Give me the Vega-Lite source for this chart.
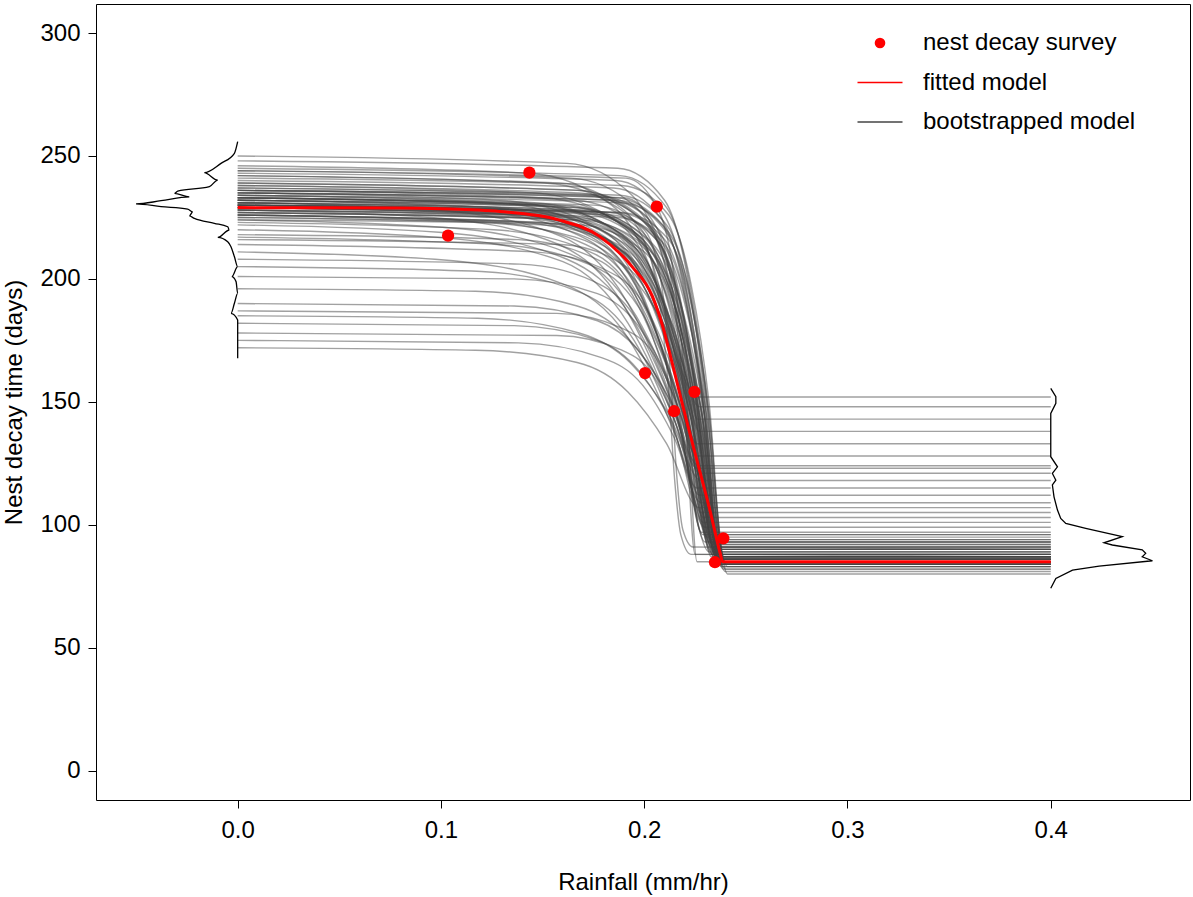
{
"$schema":"https://vega.github.io/schema/vega-lite/v6.json",
"width":1094,"height":796,
"autosize":{"type":"none"},
"padding":{"left":96,"top":4,"right":3,"bottom":97},
"background":"white",
"config":{"font":"Liberation Sans","view":{"stroke":"black","strokeWidth":1},
 "legend":{"labelLimit":500}},
"datasets":{
"boot":[
{"c":1,"x":0,"y":229},{"c":1,"x":0.138,"y":226},{"c":1,"x":0.183,"y":215},{"c":1,"x":0.206,"y":189},{"c":1,"x":0.223,"y":143},{"c":1,"x":0.238,"y":85},{"c":1,"x":0.4,"y":85},
{"c":2,"x":0,"y":230},{"c":2,"x":0.146,"y":227},{"c":2,"x":0.187,"y":216},{"c":2,"x":0.207,"y":190},{"c":2,"x":0.223,"y":144},{"c":2,"x":0.236,"y":86},{"c":2,"x":0.4,"y":86},
{"c":3,"x":0,"y":231},{"c":3,"x":0.170,"y":228},{"c":3,"x":0.202,"y":216},{"c":3,"x":0.218,"y":190},{"c":3,"x":0.230,"y":143},{"c":3,"x":0.240,"y":84},{"c":3,"x":0.4,"y":84},
{"c":4,"x":0,"y":232},{"c":4,"x":0.124,"y":229},{"c":4,"x":0.174,"y":218},{"c":4,"x":0.199,"y":192},{"c":4,"x":0.218,"y":146},{"c":4,"x":0.234,"y":88},{"c":4,"x":0.4,"y":88},
{"c":5,"x":0,"y":228},{"c":5,"x":0.187,"y":225},{"c":5,"x":0.210,"y":214},{"c":5,"x":0.221,"y":188},{"c":5,"x":0.230,"y":142},{"c":5,"x":0.237,"y":85},{"c":5,"x":0.4,"y":85},
{"c":6,"x":0,"y":233},{"c":6,"x":0.145,"y":230},{"c":6,"x":0.186,"y":219},{"c":6,"x":0.206,"y":193},{"c":6,"x":0.222,"y":147},{"c":6,"x":0.235,"y":90},{"c":6,"x":0.4,"y":90},
{"c":7,"x":0,"y":235},{"c":7,"x":0.129,"y":232},{"c":7,"x":0.179,"y":220},{"c":7,"x":0.204,"y":192},{"c":7,"x":0.223,"y":144},{"c":7,"x":0.239,"y":83},{"c":7,"x":0.4,"y":83},
{"c":8,"x":0,"y":227},{"c":8,"x":0.163,"y":224},{"c":8,"x":0.195,"y":213},{"c":8,"x":0.211,"y":188},{"c":8,"x":0.223,"y":143},{"c":8,"x":0.233,"y":87},{"c":8,"x":0.4,"y":87},
{"c":9,"x":0,"y":236},{"c":9,"x":0.186,"y":233},{"c":9,"x":0.209,"y":222},{"c":9,"x":0.220,"y":196},{"c":9,"x":0.229,"y":150},{"c":9,"x":0.236,"y":92},{"c":9,"x":0.4,"y":92},
{"c":10,"x":0,"y":224},{"c":10,"x":0.101,"y":221},{"c":10,"x":0.164,"y":210},{"c":10,"x":0.196,"y":185},{"c":10,"x":0.220,"y":140},{"c":10,"x":0.241,"y":84},{"c":10,"x":0.4,"y":84},
{"c":11,"x":0,"y":230},{"c":11,"x":0.122,"y":227},{"c":11,"x":0.172,"y":216},{"c":11,"x":0.197,"y":191},{"c":11,"x":0.216,"y":145},{"c":11,"x":0.232,"y":89},{"c":11,"x":0.4,"y":89},
{"c":12,"x":0,"y":238},{"c":12,"x":0.168,"y":235},{"c":12,"x":0.200,"y":223},{"c":12,"x":0.216,"y":195},{"c":12,"x":0.228,"y":146},{"c":12,"x":0.238,"y":85},{"c":12,"x":0.4,"y":85},
{"c":13,"x":0,"y":226},{"c":13,"x":0.140,"y":223},{"c":13,"x":0.181,"y":213},{"c":13,"x":0.201,"y":189},{"c":13,"x":0.217,"y":146},{"c":13,"x":0.230,"y":93},{"c":13,"x":0.4,"y":93},
{"c":14,"x":0,"y":231},{"c":14,"x":0.097,"y":228},{"c":14,"x":0.160,"y":217},{"c":14,"x":0.192,"y":190},{"c":14,"x":0.216,"y":144},{"c":14,"x":0.237,"y":86},{"c":14,"x":0.4,"y":86},
{"c":15,"x":0,"y":240},{"c":15,"x":0.185,"y":237},{"c":15,"x":0.208,"y":225},{"c":15,"x":0.219,"y":198},{"c":15,"x":0.228,"y":151},{"c":15,"x":0.235,"y":91},{"c":15,"x":0.4,"y":91},
{"c":16,"x":0,"y":225},{"c":16,"x":0.149,"y":222},{"c":16,"x":0.190,"y":211},{"c":16,"x":0.210,"y":185},{"c":16,"x":0.226,"y":139},{"c":16,"x":0.239,"y":82},{"c":16,"x":0.4,"y":82},
{"c":17,"x":0,"y":229},{"c":17,"x":0.161,"y":226},{"c":17,"x":0.193,"y":216},{"c":17,"x":0.209,"y":191},{"c":17,"x":0.221,"y":149},{"c":17,"x":0.231,"y":95},{"c":17,"x":0.4,"y":95},
{"c":18,"x":0,"y":232},{"c":18,"x":0.130,"y":229},{"c":18,"x":0.180,"y":217},{"c":18,"x":0.205,"y":191},{"c":18,"x":0.224,"y":144},{"c":18,"x":0.240,"y":85},{"c":18,"x":0.4,"y":85},
{"c":19,"x":0,"y":234},{"c":19,"x":0.146,"y":231},{"c":19,"x":0.187,"y":219},{"c":19,"x":0.207,"y":193},{"c":19,"x":0.223,"y":146},{"c":19,"x":0.236,"y":87},{"c":19,"x":0.4,"y":87},
{"c":20,"x":0,"y":237},{"c":20,"x":0.171,"y":234},{"c":20,"x":0.203,"y":221},{"c":20,"x":0.219,"y":193},{"c":20,"x":0.231,"y":143},{"c":20,"x":0.241,"y":80},{"c":20,"x":0.4,"y":80},
{"c":21,"x":0,"y":223},{"c":21,"x":0.126,"y":220},{"c":21,"x":0.176,"y":210},{"c":21,"x":0.201,"y":185},{"c":21,"x":0.220,"y":142},{"c":21,"x":0.236,"y":88},{"c":21,"x":0.4,"y":88},
{"c":22,"x":0,"y":230},{"c":22,"x":0.183,"y":227},{"c":22,"x":0.206,"y":216},{"c":22,"x":0.217,"y":192},{"c":22,"x":0.226,"y":148},{"c":22,"x":0.233,"y":94},{"c":22,"x":0.4,"y":94},
{"c":23,"x":0,"y":233},{"c":23,"x":0.148,"y":230},{"c":23,"x":0.189,"y":218},{"c":23,"x":0.209,"y":192},{"c":23,"x":0.225,"y":145},{"c":23,"x":0.238,"y":86},{"c":23,"x":0.4,"y":86},
{"c":24,"x":0,"y":228},{"c":24,"x":0.095,"y":225},{"c":24,"x":0.158,"y":214},{"c":24,"x":0.190,"y":189},{"c":24,"x":0.214,"y":145},{"c":24,"x":0.235,"y":90},{"c":24,"x":0.4,"y":90},
{"c":25,"x":0,"y":239},{"c":25,"x":0.167,"y":236},{"c":25,"x":0.199,"y":224},{"c":25,"x":0.215,"y":196},{"c":25,"x":0.227,"y":146},{"c":25,"x":0.237,"y":84},{"c":25,"x":0.4,"y":84},
{"c":26,"x":0,"y":226},{"c":26,"x":0.150,"y":223},{"c":26,"x":0.191,"y":212},{"c":26,"x":0.211,"y":185},{"c":26,"x":0.227,"y":139},{"c":26,"x":0.240,"y":81},{"c":26,"x":0.4,"y":81},
{"c":27,"x":0,"y":231},{"c":27,"x":0.124,"y":228},{"c":27,"x":0.174,"y":217},{"c":27,"x":0.199,"y":192},{"c":27,"x":0.218,"y":148},{"c":27,"x":0.234,"y":92},{"c":27,"x":0.4,"y":92},
{"c":28,"x":0,"y":235},{"c":28,"x":0.187,"y":232},{"c":28,"x":0.210,"y":220},{"c":28,"x":0.221,"y":194},{"c":28,"x":0.230,"y":147},{"c":28,"x":0.237,"y":89},{"c":28,"x":0.4,"y":89},
{"c":29,"x":0,"y":229},{"c":29,"x":0.139,"y":226},{"c":29,"x":0.180,"y":216},{"c":29,"x":0.200,"y":192},{"c":29,"x":0.216,"y":149},{"c":29,"x":0.229,"y":96},{"c":29,"x":0.4,"y":96},
{"c":30,"x":0,"y":222},{"c":30,"x":0.099,"y":219},{"c":30,"x":0.162,"y":208},{"c":30,"x":0.194,"y":184},{"c":30,"x":0.218,"y":140},{"c":30,"x":0.239,"y":85},{"c":30,"x":0.4,"y":85},
{"c":31,"x":0,"y":243},{"c":31,"x":0.186,"y":240},{"c":31,"x":0.209,"y":227},{"c":31,"x":0.220,"y":199},{"c":31,"x":0.229,"y":149},{"c":31,"x":0.236,"y":86},{"c":31,"x":0.4,"y":86},
{"c":32,"x":0,"y":244},{"c":32,"x":0.164,"y":241},{"c":32,"x":0.196,"y":229},{"c":32,"x":0.212,"y":201},{"c":32,"x":0.224,"y":152},{"c":32,"x":0.234,"y":91},{"c":32,"x":0.4,"y":91},
{"c":33,"x":0,"y":245},{"c":33,"x":0.188,"y":242},{"c":33,"x":0.211,"y":229},{"c":33,"x":0.222,"y":200},{"c":33,"x":0.231,"y":149},{"c":33,"x":0.238,"y":85},{"c":33,"x":0.4,"y":85},
{"c":34,"x":0,"y":246},{"c":34,"x":0.143,"y":243},{"c":34,"x":0.184,"y":230},{"c":34,"x":0.204,"y":202},{"c":34,"x":0.220,"y":151},{"c":34,"x":0.233,"y":88},{"c":34,"x":0.4,"y":88},
{"c":35,"x":0,"y":248},{"c":35,"x":0.187,"y":245},{"c":35,"x":0.210,"y":232},{"c":35,"x":0.221,"y":202},{"c":35,"x":0.230,"y":150},{"c":35,"x":0.237,"y":84},{"c":35,"x":0.4,"y":84},
{"c":36,"x":0,"y":250},{"c":36,"x":0.162,"y":247},{"c":36,"x":0.194,"y":234},{"c":36,"x":0.210,"y":206},{"c":36,"x":0.222,"y":156},{"c":36,"x":0.232,"y":93},{"c":36,"x":0.4,"y":93},
{"c":37,"x":0,"y":241},{"c":37,"x":0.189,"y":238},{"c":37,"x":0.212,"y":226},{"c":37,"x":0.223,"y":198},{"c":37,"x":0.232,"y":149},{"c":37,"x":0.239,"y":87},{"c":37,"x":0.4,"y":87},
{"c":38,"x":0,"y":242},{"c":38,"x":0.158,"y":239},{"c":38,"x":0.190,"y":228},{"c":38,"x":0.206,"y":201},{"c":38,"x":0.218,"y":155},{"c":38,"x":0.228,"y":97},{"c":38,"x":0.4,"y":97},
{"c":39,"x":0,"y":242},{"c":39,"x":0.151,"y":239},{"c":39,"x":0.192,"y":226},{"c":39,"x":0.212,"y":197},{"c":39,"x":0.228,"y":147},{"c":39,"x":0.241,"y":83},{"c":39,"x":0.4,"y":83},
{"c":40,"x":0,"y":205},{"c":40,"x":0.120,"y":203},{"c":40,"x":0.170,"y":194},{"c":40,"x":0.195,"y":175},{"c":40,"x":0.214,"y":141},{"c":40,"x":0.230,"y":99},{"c":40,"x":0.4,"y":99},
{"c":41,"x":0,"y":208},{"c":41,"x":0.139,"y":206},{"c":41,"x":0.180,"y":197},{"c":41,"x":0.200,"y":178},{"c":41,"x":0.216,"y":144},{"c":41,"x":0.229,"y":101},{"c":41,"x":0.4,"y":101},
{"c":42,"x":0,"y":211},{"c":42,"x":0.097,"y":208},{"c":42,"x":0.160,"y":198},{"c":42,"x":0.192,"y":176},{"c":42,"x":0.216,"y":135},{"c":42,"x":0.237,"y":85},{"c":42,"x":0.4,"y":85},
{"c":43,"x":0,"y":214},{"c":43,"x":0.146,"y":211},{"c":43,"x":0.187,"y":201},{"c":43,"x":0.207,"y":178},{"c":43,"x":0.223,"y":138},{"c":43,"x":0.236,"y":87},{"c":43,"x":0.4,"y":87},
{"c":44,"x":0,"y":216},{"c":44,"x":0.159,"y":214},{"c":44,"x":0.191,"y":205},{"c":44,"x":0.207,"y":184},{"c":44,"x":0.219,"y":148},{"c":44,"x":0.229,"y":103},{"c":44,"x":0.4,"y":103},
{"c":45,"x":0,"y":217},{"c":45,"x":0.128,"y":214},{"c":45,"x":0.178,"y":204},{"c":45,"x":0.203,"y":180},{"c":45,"x":0.222,"y":137},{"c":45,"x":0.238,"y":84},{"c":45,"x":0.4,"y":84},
{"c":46,"x":0,"y":218},{"c":46,"x":0.138,"y":216},{"c":46,"x":0.179,"y":207},{"c":46,"x":0.199,"y":186},{"c":46,"x":0.215,"y":150},{"c":46,"x":0.228,"y":105},{"c":46,"x":0.4,"y":105},
{"c":47,"x":0,"y":220},{"c":47,"x":0.097,"y":217},{"c":47,"x":0.160,"y":207},{"c":47,"x":0.192,"y":182},{"c":47,"x":0.216,"y":140},{"c":47,"x":0.237,"y":86},{"c":47,"x":0.4,"y":86},
{"c":48,"x":0,"y":172},{"c":48,"x":0.117,"y":171},{"c":48,"x":0.167,"y":166},{"c":48,"x":0.192,"y":154},{"c":48,"x":0.211,"y":133},{"c":48,"x":0.227,"y":107},{"c":48,"x":0.4,"y":107},
{"c":49,"x":0,"y":175},{"c":49,"x":0.138,"y":174},{"c":49,"x":0.179,"y":168},{"c":49,"x":0.199,"y":157},{"c":49,"x":0.215,"y":135},{"c":49,"x":0.228,"y":109},{"c":49,"x":0.4,"y":109},
{"c":50,"x":0,"y":178},{"c":50,"x":0.157,"y":177},{"c":50,"x":0.189,"y":171},{"c":50,"x":0.205,"y":160},{"c":50,"x":0.217,"y":138},{"c":50,"x":0.227,"y":112},{"c":50,"x":0.4,"y":112},
{"c":51,"x":0,"y":182},{"c":51,"x":0.136,"y":181},{"c":51,"x":0.177,"y":175},{"c":51,"x":0.197,"y":163},{"c":51,"x":0.213,"y":142},{"c":51,"x":0.226,"y":115},{"c":51,"x":0.4,"y":115},
{"c":52,"x":0,"y":185},{"c":52,"x":0.118,"y":184},{"c":52,"x":0.168,"y":178},{"c":52,"x":0.193,"y":166},{"c":52,"x":0.212,"y":145},{"c":52,"x":0.228,"y":118},{"c":52,"x":0.4,"y":118},
{"c":53,"x":0,"y":187},{"c":53,"x":0.157,"y":186},{"c":53,"x":0.189,"y":180},{"c":53,"x":0.205,"y":169},{"c":53,"x":0.217,"y":147},{"c":53,"x":0.227,"y":121},{"c":53,"x":0.4,"y":121},
{"c":54,"x":0,"y":190},{"c":54,"x":0.136,"y":189},{"c":54,"x":0.177,"y":183},{"c":54,"x":0.197,"y":171},{"c":54,"x":0.213,"y":150},{"c":54,"x":0.226,"y":123},{"c":54,"x":0.4,"y":123},
{"c":55,"x":0,"y":196},{"c":55,"x":0.117,"y":195},{"c":55,"x":0.167,"y":189},{"c":55,"x":0.192,"y":176},{"c":55,"x":0.211,"y":153},{"c":55,"x":0.227,"y":124},{"c":55,"x":0.4,"y":124},
{"c":56,"x":0,"y":201},{"c":56,"x":0.136,"y":200},{"c":56,"x":0.177,"y":194},{"c":56,"x":0.197,"y":181},{"c":56,"x":0.213,"y":157},{"c":56,"x":0.226,"y":128},{"c":56,"x":0.4,"y":128},
{"c":57,"x":0,"y":227},{"c":57,"x":0.136,"y":225},{"c":57,"x":0.177,"y":218},{"c":57,"x":0.197,"y":201},{"c":57,"x":0.213,"y":171},{"c":57,"x":0.226,"y":133},{"c":57,"x":0.4,"y":133},
{"c":58,"x":0,"y":232},{"c":58,"x":0.157,"y":230},{"c":58,"x":0.189,"y":223},{"c":58,"x":0.205,"y":206},{"c":58,"x":0.217,"y":176},{"c":58,"x":0.227,"y":138},{"c":58,"x":0.4,"y":138},
{"c":59,"x":0,"y":236},{"c":59,"x":0.176,"y":234},{"c":59,"x":0.199,"y":227},{"c":59,"x":0.210,"y":210},{"c":59,"x":0.219,"y":180},{"c":59,"x":0.226,"y":143},{"c":59,"x":0.4,"y":143},
{"c":60,"x":0,"y":230},{"c":60,"x":0.137,"y":228},{"c":60,"x":0.178,"y":222},{"c":60,"x":0.198,"y":207},{"c":60,"x":0.214,"y":181},{"c":60,"x":0.227,"y":148},{"c":60,"x":0.4,"y":148},
{"c":61,"x":0,"y":224},{"c":61,"x":0.116,"y":223},{"c":61,"x":0.166,"y":217},{"c":61,"x":0.191,"y":204},{"c":61,"x":0.210,"y":181},{"c":61,"x":0.226,"y":152},{"c":61,"x":0.4,"y":152},
{"c":62,"x":0,"y":244},{"c":62,"x":0.191,"y":241},{"c":62,"x":0.207,"y":228},{"c":62,"x":0.215,"y":199},{"c":62,"x":0.221,"y":149},{"c":62,"x":0.226,"y":85},{"c":62,"x":0.4,"y":85},
{"c":63,"x":0,"y":236},{"c":63,"x":0.190,"y":233},{"c":63,"x":0.206,"y":221},{"c":63,"x":0.214,"y":195},{"c":63,"x":0.220,"y":147},{"c":63,"x":0.225,"y":88},{"c":63,"x":0.4,"y":88},
{"c":64,"x":0,"y":233},{"c":64,"x":0.175,"y":230},{"c":64,"x":0.200,"y":220},{"c":64,"x":0.209,"y":195},{"c":64,"x":0.213,"y":160},{"c":64,"x":0.216,"y":120},{"c":64,"x":0.219,"y":98},{"c":64,"x":0.224,"y":91},{"c":64,"x":0.4,"y":90},
{"c":65,"x":0,"y":230},{"c":65,"x":0.170,"y":227},{"c":65,"x":0.198,"y":217},{"c":65,"x":0.207,"y":193},{"c":65,"x":0.212,"y":155},{"c":65,"x":0.215,"y":118},{"c":65,"x":0.218,"y":96},{"c":65,"x":0.223,"y":88},{"c":65,"x":0.4,"y":87},
{"c":66,"x":0,"y":230},{"c":66,"x":0.167,"y":227},{"c":66,"x":0.199,"y":215},{"c":66,"x":0.215,"y":189},{"c":66,"x":0.227,"y":142},{"c":66,"x":0.237,"y":84},{"c":66,"x":0.4,"y":84},
{"c":67,"x":0,"y":228},{"c":67,"x":0.145,"y":225},{"c":67,"x":0.186,"y":214},{"c":67,"x":0.206,"y":188},{"c":67,"x":0.222,"y":143},{"c":67,"x":0.235,"y":86},{"c":67,"x":0.4,"y":86},
{"c":68,"x":0,"y":234},{"c":68,"x":0.189,"y":231},{"c":68,"x":0.212,"y":219},{"c":68,"x":0.223,"y":192},{"c":68,"x":0.232,"y":145},{"c":68,"x":0.239,"y":85},{"c":68,"x":0.4,"y":85},
{"c":69,"x":0,"y":232},{"c":69,"x":0.168,"y":229},{"c":69,"x":0.200,"y":217},{"c":69,"x":0.216,"y":190},{"c":69,"x":0.228,"y":143},{"c":69,"x":0.238,"y":83},{"c":69,"x":0.4,"y":83},
{"c":70,"x":0,"y":226},{"c":70,"x":0.126,"y":223},{"c":70,"x":0.176,"y":212},{"c":70,"x":0.201,"y":187},{"c":70,"x":0.220,"y":143},{"c":70,"x":0.236,"y":87},{"c":70,"x":0.4,"y":87},
{"c":71,"x":0,"y":236},{"c":71,"x":0.150,"y":233},{"c":71,"x":0.191,"y":221},{"c":71,"x":0.211,"y":194},{"c":71,"x":0.227,"y":145},{"c":71,"x":0.240,"y":85},{"c":71,"x":0.4,"y":85},
{"c":72,"x":0,"y":229},{"c":72,"x":0.184,"y":226},{"c":72,"x":0.207,"y":215},{"c":72,"x":0.218,"y":190},{"c":72,"x":0.227,"y":145},{"c":72,"x":0.234,"y":89},{"c":72,"x":0.4,"y":89},
{"c":73,"x":0,"y":231},{"c":73,"x":0.166,"y":228},{"c":73,"x":0.198,"y":217},{"c":73,"x":0.214,"y":192},{"c":73,"x":0.226,"y":147},{"c":73,"x":0.236,"y":91},{"c":73,"x":0.4,"y":91},
{"c":74,"x":0,"y":233},{"c":74,"x":0.148,"y":230},{"c":74,"x":0.189,"y":218},{"c":74,"x":0.209,"y":191},{"c":74,"x":0.225,"y":144},{"c":74,"x":0.238,"y":84},{"c":74,"x":0.4,"y":84},
{"c":75,"x":0,"y":227},{"c":75,"x":0.169,"y":224},{"c":75,"x":0.201,"y":213},{"c":75,"x":0.217,"y":188},{"c":75,"x":0.229,"y":142},{"c":75,"x":0.239,"y":86},{"c":75,"x":0.4,"y":86},
{"c":76,"x":0,"y":235},{"c":76,"x":0.183,"y":232},{"c":76,"x":0.206,"y":221},{"c":76,"x":0.217,"y":195},{"c":76,"x":0.226,"y":150},{"c":76,"x":0.233,"y":93},{"c":76,"x":0.4,"y":93},
{"c":77,"x":0,"y":230},{"c":77,"x":0.187,"y":227},{"c":77,"x":0.210,"y":216},{"c":77,"x":0.221,"y":189},{"c":77,"x":0.230,"y":143},{"c":77,"x":0.237,"y":85},{"c":77,"x":0.4,"y":85},
{"c":78,"x":0,"y":238},{"c":78,"x":0.146,"y":235},{"c":78,"x":0.187,"y":223},{"c":78,"x":0.207,"y":196},{"c":78,"x":0.223,"y":148},{"c":78,"x":0.236,"y":88},{"c":78,"x":0.4,"y":88},
{"c":79,"x":0,"y":225},{"c":79,"x":0.168,"y":222},{"c":79,"x":0.200,"y":211},{"c":79,"x":0.216,"y":186},{"c":79,"x":0.228,"y":141},{"c":79,"x":0.238,"y":85},{"c":79,"x":0.4,"y":85},
{"c":80,"x":0,"y":232},{"c":80,"x":0.165,"y":229},{"c":80,"x":0.197,"y":218},{"c":80,"x":0.213,"y":192},{"c":80,"x":0.225,"y":147},{"c":80,"x":0.235,"y":90},{"c":80,"x":0.4,"y":90},
{"c":81,"x":0,"y":229},{"c":81,"x":0.150,"y":226},{"c":81,"x":0.191,"y":214},{"c":81,"x":0.211,"y":188},{"c":81,"x":0.227,"y":141},{"c":81,"x":0.240,"y":82},{"c":81,"x":0.4,"y":82},
{"c":82,"x":0,"y":234},{"c":82,"x":0.127,"y":231},{"c":82,"x":0.177,"y":219},{"c":82,"x":0.202,"y":193},{"c":82,"x":0.221,"y":145},{"c":82,"x":0.237,"y":86},{"c":82,"x":0.4,"y":86},
{"c":83,"x":0,"y":237},{"c":83,"x":0.188,"y":234},{"c":83,"x":0.211,"y":222},{"c":83,"x":0.222,"y":195},{"c":83,"x":0.231,"y":147},{"c":83,"x":0.238,"y":87},{"c":83,"x":0.4,"y":87},
{"c":84,"x":0,"y":231},{"c":84,"x":0.143,"y":228},{"c":84,"x":0.184,"y":217},{"c":84,"x":0.204,"y":193},{"c":84,"x":0.220,"y":149},{"c":84,"x":0.233,"y":94},{"c":84,"x":0.4,"y":94},
{"c":85,"x":0,"y":228},{"c":85,"x":0.166,"y":225},{"c":85,"x":0.198,"y":214},{"c":85,"x":0.214,"y":188},{"c":85,"x":0.226,"y":142},{"c":85,"x":0.236,"y":84},{"c":85,"x":0.4,"y":84},
{"c":86,"x":0,"y":233},{"c":86,"x":0.162,"y":230},{"c":86,"x":0.194,"y":219},{"c":86,"x":0.210,"y":195},{"c":86,"x":0.222,"y":151},{"c":86,"x":0.232,"y":96},{"c":86,"x":0.4,"y":96},
{"c":87,"x":0,"y":230},{"c":87,"x":0.189,"y":227},{"c":87,"x":0.212,"y":216},{"c":87,"x":0.223,"y":190},{"c":87,"x":0.232,"y":144},{"c":87,"x":0.239,"y":87},{"c":87,"x":0.4,"y":87},
{"c":88,"x":0,"y":235},{"c":88,"x":0.166,"y":232},{"c":88,"x":0.198,"y":220},{"c":88,"x":0.214,"y":193},{"c":88,"x":0.226,"y":145},{"c":88,"x":0.236,"y":85},{"c":88,"x":0.4,"y":85},
{"c":89,"x":0,"y":226},{"c":89,"x":0.147,"y":223},{"c":89,"x":0.188,"y":212},{"c":89,"x":0.208,"y":188},{"c":89,"x":0.224,"y":144},{"c":89,"x":0.237,"y":90},{"c":89,"x":0.4,"y":90},
{"c":90,"x":0,"y":239},{"c":90,"x":0.168,"y":236},{"c":90,"x":0.200,"y":224},{"c":90,"x":0.216,"y":196},{"c":90,"x":0.228,"y":147},{"c":90,"x":0.238,"y":86},{"c":90,"x":0.4,"y":86}
],
"fit":[
{"x":0,"y":229},{"x":0.08,"y":228.8},{"x":0.1,"y":228.5},{"x":0.129,"y":227.4},{"x":0.158,"y":224},{"x":0.178,"y":217.3},{"x":0.194,"y":205},{"x":0.204,"y":193},{"x":0.209,"y":181},{"x":0.214,"y":165},{"x":0.22,"y":145},{"x":0.226,"y":126},{"x":0.232,"y":107},{"x":0.2375,"y":88},{"x":0.2385,"y":85},{"x":0.4,"y":85}
],
"pts":[
{"x":0.1035,"y":217.6},{"x":0.1435,"y":243.2},{"x":0.2062,"y":229.4},{"x":0.2004,"y":161.7},{"x":0.2147,"y":146.2},{"x":0.2247,"y":154.1},{"x":0.2348,"y":84.8},{"x":0.2389,"y":94.5}
],
"dl":[
{"x":0,"y":167.7},{"x":0,"y":179.2},{"x":0,"y":183.3},{"x":-0.0033,"y":186.0},{"x":-0.0016,"y":190.1},{"x":0,"y":194.1},{"x":-0.0008,"y":198.9},{"x":-0.0029,"y":200.9},{"x":0,"y":205.0},{"x":-0.0016,"y":209.0},{"x":-0.0033,"y":213.1},{"x":-0.0049,"y":215.1},{"x":-0.0098,"y":216.9},{"x":-0.0041,"y":219.9},{"x":-0.0049,"y":221.2},{"x":-0.0115,"y":222.6},{"x":-0.0213,"y":224.6},{"x":-0.0238,"y":225.6},{"x":-0.0221,"y":227.3},{"x":-0.0246,"y":228.4},{"x":-0.0377,"y":229.4},{"x":-0.05,"y":230.5},{"x":-0.0377,"y":231.8},{"x":-0.0238,"y":233.4},{"x":-0.0311,"y":234.8},{"x":-0.0295,"y":235.7},{"x":-0.0139,"y":237.5},{"x":-0.0098,"y":240.2},{"x":-0.0164,"y":243.2},{"x":-0.0082,"y":247.0},{"x":-0.0016,"y":251.1},{"x":0,"y":255.8}
],
"dr":[
{"x":0.4,"y":74.2},{"x":0.4025,"y":78.2},{"x":0.4107,"y":81.6},{"x":0.4238,"y":83.2},{"x":0.45,"y":85.4},{"x":0.445,"y":87.0},{"x":0.4467,"y":88.4},{"x":0.445,"y":89.8},{"x":0.4303,"y":91.8},{"x":0.4262,"y":92.7},{"x":0.4352,"y":95.2},{"x":0.4172,"y":98.6},{"x":0.4074,"y":100.6},{"x":0.4049,"y":102.6},{"x":0.4033,"y":106.0},{"x":0.4016,"y":111.4},{"x":0.4008,"y":116.2},{"x":0.4025,"y":118.2},{"x":0.4008,"y":120.9},{"x":0.4033,"y":123.6},{"x":0.4,"y":127.7},{"x":0.4,"y":135.8},{"x":0.4,"y":145.3},{"x":0.4025,"y":149.4},{"x":0.4025,"y":152.1},{"x":0.4,"y":155.5}
]
},
"layer":[
{"data":{"name":"boot"},
 "mark":{"type":"line","interpolate":"monotone","strokeWidth":1.4,"opacity":0.5},
 "encoding":{
  "x":{"field":"x","type":"quantitative","scale":{"domain":[-0.0697,0.4685],"nice":false,"zero":false},
   "axis":{"values":[0,0.1,0.2,0.3,0.4],"format":".1f","title":"Rainfall (mm/hr)","grid":false,"domain":false,"ticks":true,"tickColor":"black","tickWidth":1,"tickSize":8,"labelFontSize":24,"labelColor":"black","labelPadding":10,"labelFlush":false,"titleFontSize":24,"titleFontWeight":"normal","titleColor":"black","titleY":82,"titleBaseline":"middle"}},
  "y":{"field":"y","type":"quantitative","scale":{"domain":[-11.9,311.8],"nice":false,"zero":false},
   "axis":{"values":[0,50,100,150,200,250,300],"title":"Nest decay time (days)","grid":false,"domain":false,"tickColor":"black","tickWidth":1,"tickSize":8,"labelFontSize":24,"labelColor":"black","labelPadding":8,"titleFontSize":24,"titleFontWeight":"normal","titleColor":"black","titleAngle":270,"titleX":-82,"titleY":398,"titleAlign":"center","titleBaseline":"middle"}},
  "detail":{"field":"c","type":"nominal"},
  "color":{"datum":"bootstrapped model","type":"nominal",
   "scale":{"domain":["nest decay survey","fitted model","bootstrapped model"],"range":["red","red","#444444"]},
   "legend":{"title":null,"orient":"none","legendX":772,"legendY":27,"symbolSize":400,"labelFontSize":24,"labelColor":"black","labelOffset":31,"rowPadding":15.5,"labelLimit":500,
    "encode":{"symbols":{"update":{
     "shape":{"signal":"datum.value === 'nest decay survey' ? 'circle' : 'stroke'"},
     "size":{"signal":"datum.value === 'nest decay survey' ? 113 : 2025"},
     "fill":{"signal":"datum.value === 'nest decay survey' ? 'red' : 'transparent'"},
     "stroke":{"signal":"datum.value === 'bootstrapped model' ? 'black' : 'red'"},
     "strokeWidth":{"signal":"datum.value === 'nest decay survey' ? 0 : 1.5"},
     "opacity":{"value":1}}}}}}
 }},
{"data":{"name":"dl"},"mark":{"type":"line","color":"black","strokeWidth":1.3,"interpolate":"monotone"},
 "encoding":{"x":{"field":"x","type":"quantitative"},"y":{"field":"y","type":"quantitative"},"order":{"field":"y","type":"quantitative"}}},
{"data":{"name":"dr"},"mark":{"type":"line","color":"black","strokeWidth":1.3},
 "encoding":{"x":{"field":"x","type":"quantitative"},"y":{"field":"y","type":"quantitative"},"order":{"field":"y","type":"quantitative"}}},
{"data":{"name":"fit"},"mark":{"type":"line","interpolate":"monotone","strokeWidth":3},
 "encoding":{"x":{"field":"x","type":"quantitative"},"y":{"field":"y","type":"quantitative"},
  "color":{"datum":"fitted model","type":"nominal",
   "legend":{"title":null,"orient":"none","legendX":772,"legendY":27,"symbolSize":400,"labelFontSize":24,"labelColor":"black","labelOffset":31,"rowPadding":15.5,"labelLimit":500,
    "encode":{"symbols":{"update":{
     "shape":{"signal":"datum.value === 'nest decay survey' ? 'circle' : 'stroke'"},
     "size":{"signal":"datum.value === 'nest decay survey' ? 113 : 2025"},
     "fill":{"signal":"datum.value === 'nest decay survey' ? 'red' : 'transparent'"},
     "stroke":{"signal":"datum.value === 'bootstrapped model' ? 'black' : 'red'"},
     "strokeWidth":{"signal":"datum.value === 'nest decay survey' ? 0 : 1.5"},
     "opacity":{"value":1}}}}}}}},
{"data":{"name":"pts"},"mark":{"type":"circle","size":150,"opacity":1},
 "encoding":{"x":{"field":"x","type":"quantitative"},"y":{"field":"y","type":"quantitative"},
  "color":{"datum":"nest decay survey","type":"nominal",
   "legend":{"title":null,"orient":"none","legendX":772,"legendY":27,"symbolSize":400,"labelFontSize":24,"labelColor":"black","labelOffset":31,"rowPadding":15.5,"labelLimit":500,
    "encode":{"symbols":{"update":{
     "shape":{"signal":"datum.value === 'nest decay survey' ? 'circle' : 'stroke'"},
     "size":{"signal":"datum.value === 'nest decay survey' ? 113 : 2025"},
     "fill":{"signal":"datum.value === 'nest decay survey' ? 'red' : 'transparent'"},
     "stroke":{"signal":"datum.value === 'bootstrapped model' ? 'black' : 'red'"},
     "strokeWidth":{"signal":"datum.value === 'nest decay survey' ? 0 : 1.5"},
     "opacity":{"value":1}}}}}}}}
]
}
